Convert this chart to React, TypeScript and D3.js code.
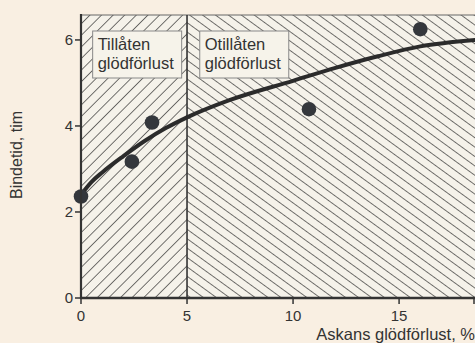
import React from "react";
import * as d3 from "d3";

const pointX = [0, 2.4, 3.35, 10.75, 16.0];
const pointY = [2.36, 3.17, 4.08, 4.39, 6.25];
const curveX = [0, 0.5, 1, 2, 3, 4, 5, 7, 10, 12, 14, 16, 18.6];
const curveY = [2.4, 2.7, 2.92, 3.3, 3.65, 3.95, 4.2, 4.6, 5.05, 5.35, 5.62, 5.85, 6.0];
const xTicks = [0, 5, 10, 15];
const yTicks = [0, 2, 4, 6];
const boundary = 5;
const zoneLabels = [["Tillåten", "glödförlust"], ["Otillåten", "glödförlust"]];
const zoneLabelX = [0.55, 5.6];

const W = 475, H = 343;
const FONT = "'Liberation Sans', Arial, sans-serif";
const INK = "#333333";

export default function App() {
  const x = d3.scaleLinear().domain([0, 18.58]).range([81, 475]);
  const y = d3.scaleLinear().domain([0, 6.58]).range([298, 15]);
  const line = d3
    .line<number>()
    .x((_, i) => x(curveX[i]))
    .y((d) => y(d))
    .curve(d3.curveMonotoneX);
  const x0 = x(0), xb = x(boundary), x1 = x(18.58);
  const yTop = y(6.58), yBot = y(0);
  return (
    <svg
      width={W}
      height={H}
      style={{ position: "absolute", left: 0, top: 0, background: "#f9efe2" }}
    >
      <defs>
        <pattern id="hl" patternUnits="userSpaceOnUse" width={8.2} height={20} patternTransform="rotate(45)">
          <line x1={0} y1={0} x2={0} y2={20} stroke="#222" strokeWidth={1.25} />
        </pattern>
        <pattern id="hr" patternUnits="userSpaceOnUse" width={7.6} height={20} patternTransform="rotate(-54)">
          <line x1={0} y1={0} x2={0} y2={20} stroke="#222" strokeWidth={1.25} />
        </pattern>
      </defs>
      <rect x={x0} y={yTop} width={x1 - x0} height={yBot - yTop} fill="#f5f2ea" />
      <rect x={x0} y={yTop} width={xb - x0} height={yBot - yTop} fill="url(#hl)" />
      <rect x={xb} y={yTop} width={x1 - xb} height={yBot - yTop} fill="url(#hr)" />
      <line x1={x0} x2={x1} y1={yTop} y2={yTop} stroke="#666" strokeWidth={1} />
      <line x1={xb} x2={xb} y1={yTop} y2={yBot} stroke={INK} strokeWidth={1.6} />
      {zoneLabels.map((lines, i) => {
        const bx = x(zoneLabelX[i]);
        return (
          <g key={i}>
            <rect x={bx} y={31} width={89} height={47} fill="#f6f3ea" stroke="#888" strokeWidth={1} />
            {lines.map((t, j) => (
              <text key={j} x={bx + 5} y={50 + j * 18.5} fontFamily={FONT} fontSize={16.5} fill={INK}>
                {t}
              </text>
            ))}
          </g>
        );
      })}
      <path d={line(curveY) || ""} fill="none" stroke="#2b2b2b" strokeWidth={4} strokeLinecap="round" />
      {pointX.map((px, i) => (
        <circle key={i} cx={x(px)} cy={y(pointY[i])} r={7.3} fill="#34373c" />
      ))}
      <line x1={x0} x2={x0} y1={yTop - 1} y2={yBot + 1} stroke={INK} strokeWidth={2.2} />
      <line x1={x0 - 1} x2={x1} y1={yBot} y2={yBot} stroke={INK} strokeWidth={2.5} />
      {yTicks.map((t) => (
        <g key={"y" + t}>
          <line x1={x0 - 6} x2={x0} y1={y(t)} y2={y(t)} stroke={INK} strokeWidth={1.5} />
          <text x={x0 - 8} y={y(t) + 5} textAnchor="end" fontFamily={FONT} fontSize={15} fill={INK}>
            {t}
          </text>
        </g>
      ))}
      {xTicks.map((t) => (
        <g key={"x" + t}>
          <line x1={x(t)} x2={x(t)} y1={yBot} y2={yBot + 6} stroke={INK} strokeWidth={1.5} />
          <text x={x(t)} y={321} textAnchor="middle" fontFamily={FONT} fontSize={15} fill={INK}>
            {t}
          </text>
        </g>
      ))}
      <line x1={474} x2={474} y1={yBot} y2={yBot + 6} stroke={INK} strokeWidth={1.5} />
      <text x={475} y={340} textAnchor="end" fontFamily={FONT} fontSize={16.5} fill={INK}>
        Askans glödförlust, %
      </text>
      <text
        transform={`translate(22,155) rotate(-90)`}
        textAnchor="middle"
        fontFamily={FONT}
        fontSize={16}
        fill={INK}
      >
        Bindetid, tim
      </text>
    </svg>
  );
}
